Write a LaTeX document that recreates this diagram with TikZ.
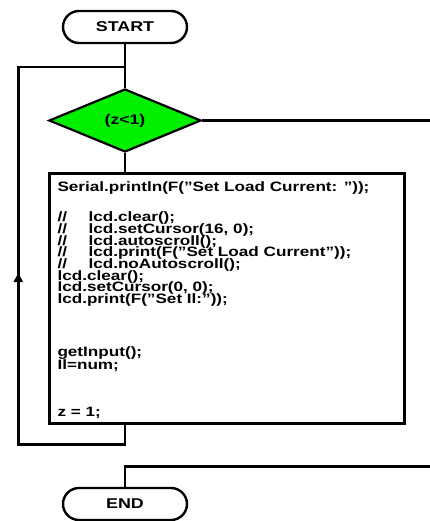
\documentclass[tikz,border=0pt]{standalone}
\usepackage{fontspec}
\setmainfont{Liberation Sans}
\usetikzlibrary{shapes.geometric,arrows.meta}
\definecolor{dgreen}{RGB}{0,240,0}
\newcommand{\wtxt}[1]{\scalebox{1.26}[1]{#1}}
\newcommand{\cmt}{\makebox[24.6pt][l]{//}}
\begin{document}
\begin{tikzpicture}[x=1pt,y=-1pt,
  terminal/.style={draw, line width=2.4pt, rounded corners=16pt, minimum width=124pt, minimum height=32pt, inner sep=0pt, font=\fontsize{14.2pt}{14pt}\selectfont\bfseries},
  decision/.style={draw, diamond, fill=dgreen, line width=2.2pt, minimum width=152pt, minimum height=63pt, inner sep=0pt, font=\fontsize{14pt}{14pt}\selectfont\bfseries},
  process/.style={draw, line width=3pt, minimum width=355pt, minimum height=249pt, inner sep=0pt},
  codeline/.style={inner sep=0pt, anchor=base west, font=\fontsize{13.6pt}{14pt}\selectfont\bfseries},
  conn/.style={line width=2.5pt},
]
\useasboundingbox (0,0) rectangle (430,521);
\node[terminal] (start) at (125,27) {\wtxt{START}};
\node[decision] (cond) at (125,120.5) {\wtxt{(z<1)}};
\node[process] (body) at (226.5,298.5) {};
\node[terminal] (end) at (125,504) {\wtxt{END}};

\node[codeline] (c1) at (57.3,191.7) {\wtxt{Serial.println(F("Set Load Current: "));}};
\node[codeline] (c2) at (57.3,221.7) {\wtxt{\cmt lcd.clear();}};
\node[codeline] (c3) at (57.3,233.4) {\wtxt{\cmt lcd.setCursor(16, 0);}};
\node[codeline] (c4) at (57.3,245.0) {\wtxt{\cmt lcd.autoscroll();}};
\node[codeline] (c5) at (57.3,256.7) {\wtxt{\cmt lcd.print(F("Set Load Current"));}};
\node[codeline] (c6) at (57.3,268.3) {\wtxt{\cmt lcd.noAutoscroll();}};
\node[codeline] (c7) at (57.3,280.0) {\wtxt{lcd.clear();}};
\node[codeline] (c8) at (57.3,291.7) {\wtxt{lcd.setCursor(0, 0);}};
\node[codeline] (c9) at (57.3,303.3) {\wtxt{lcd.print(F("Set Il:"));}};
\node[codeline] (c10) at (57.3,356.7) {\wtxt{getInput();}};
\node[codeline] (c11) at (57.3,369.0) {\wtxt{Il=num;}};
\node[codeline] (c12) at (57.3,416.7) {\wtxt{z = 1;}};

\coordinate (loopin) at (125,67);
\coordinate (bl) at (125,444.3);
\coordinate (lb) at (18.3,444.3);
\coordinate (lt) at (18.3,67);
\coordinate (arrowtip) at (18.3,273);
\coordinate (rout) at (430,120.5);
\coordinate (rin) at (430,466.7);
\coordinate (ecorner) at (125,466.7);

\draw[conn] (start.south) -- (cond.north);
\draw[conn] (cond.south) -- (cond.south |- body.north);
\draw[conn] (cond.south |- body.south) -- (bl) -- (lb) -- (lt) -- (loopin);
\draw[conn, -{Triangle[length=9pt,width=9pt]}] (lb) -- (arrowtip);
\draw[conn] (cond.east) -- (rout);
\draw[conn] (rin) -- (ecorner) -- (end.north);
\end{tikzpicture}
\end{document}
